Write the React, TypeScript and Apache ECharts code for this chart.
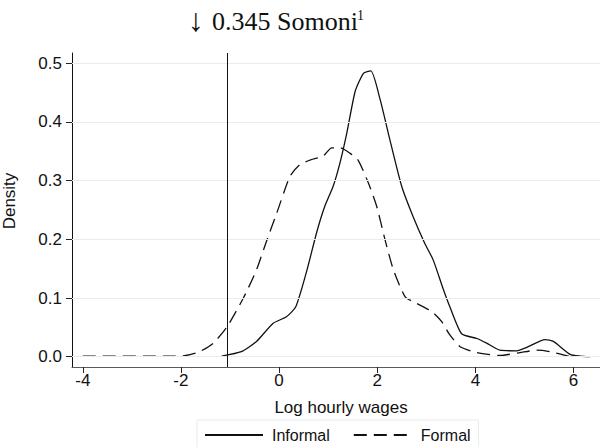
import React, { useEffect, useRef } from "react";
import * as echarts from "echarts";

const informalX = [-1.17, -0.77, -0.46, -0.12, 0.15, 0.34, 0.56, 0.77, 0.93, 1.10, 1.24, 1.38, 1.55, 1.72, 1.87, 2.06, 2.26, 2.50, 2.73, 2.97, 3.14, 3.35, 3.48, 3.72, 4.03, 4.23, 4.50, 4.84, 5.05, 5.42, 5.59, 5.93, 6.13, 6.34];
const informalY = [0.001, 0.0085, 0.026, 0.057, 0.068, 0.085, 0.145, 0.213, 0.256, 0.290, 0.330, 0.381, 0.452, 0.483, 0.487, 0.438, 0.369, 0.290, 0.239, 0.193, 0.165, 0.114, 0.085, 0.039, 0.031, 0.023, 0.011, 0.010, 0.016, 0.029, 0.026, 0.004, 0.001, 0.0];

const formalX = [-4.0, -2.2, -1.9, -1.62, -1.34, -1.06, -0.73, -0.46, -0.26, -0.05, 0.22, 0.42, 0.63, 0.90, 1.07, 1.24, 1.44, 1.61, 1.82, 1.99, 2.16, 2.33, 2.57, 2.80, 3.11, 3.31, 3.48, 3.69, 4.03, 4.50, 4.91, 5.25, 5.52, 5.93];
const formalY = [0.001, 0.001, 0.002, 0.0085, 0.023, 0.051, 0.0995, 0.148, 0.196, 0.244, 0.307, 0.327, 0.335, 0.342, 0.356, 0.356, 0.347, 0.335, 0.296, 0.256, 0.199, 0.148, 0.102, 0.091, 0.077, 0.060, 0.037, 0.017, 0.007, 0.002, 0.007, 0.011, 0.0085, 0.0];

const xTicks = [-4, -2, 0, 2, 4, 6];
const yTicks = [0, 0.1, 0.2, 0.3, 0.4, 0.5];
const cutoff = Math.log(0.345);

const SANS = "'Liberation Sans', Arial, sans-serif";
const SERIF = "'Liberation Serif', 'Times New Roman', serif";

export default function App() {
  const ref = useRef<HTMLDivElement>(null);
  useEffect(() => {
    if (!ref.current) return;
    const chart = echarts.init(ref.current, null, { renderer: "svg" });
    const pairs = (xs: number[], ys: number[]) => xs.map((x, i) => [x, ys[i]]);
    chart.setOption({
      animation: false,
      backgroundColor: "#ffffff",
      grid: { left: 72, top: 53, width: 528, height: 314, containLabel: false, outerBoundsMode: "none" },
      xAxis: {
        type: "value",
        min: -4.22,
        max: 6.54,
        axisLine: { show: true, onZero: false, lineStyle: { color: "#5a5a5a", width: 1 } },
        axisTick: { show: true, length: 6, customValues: xTicks, lineStyle: { color: "#222" } },
        axisLabel: {
          customValues: xTicks,
          margin: 5,
          fontFamily: SANS,
          fontSize: 17,
          color: "#111",
          formatter: (v: number) => String(v),
        },
        splitLine: { show: false },
      },
      yAxis: {
        type: "value",
        min: -0.0176,
        max: 0.5176,
        axisLine: { show: true, onZero: false, lineStyle: { color: "#111", width: 1 } },
        axisTick: { show: true, length: 6, customValues: yTicks, lineStyle: { color: "#222" } },
        axisLabel: {
          customValues: yTicks,
          margin: 10,
          fontFamily: SANS,
          fontSize: 17,
          color: "#111",
          formatter: (v: number) => v.toFixed(1),
        },
        splitLine: { show: false },
      },
      legend: {
        left: 197,
        top: 420,
        padding: [7, 8, 7, 7],
        itemWidth: 58,
        itemHeight: 14,
        itemGap: 23,
        borderColor: "#e4ecec",
        borderWidth: 1,
        itemStyle: { opacity: 0 },
        textStyle: { fontFamily: SANS, fontSize: 16, color: "#111", padding: [0, 0, 0, 4] },
        data: ["Informal", "Formal"],
      },
      series: [
        {
          name: "Formal",
          type: "line",
          data: pairs(formalX, formalY),
          showSymbol: false,
          symbol: "none",
          smooth: 0.2,
          z: 3,
          lineStyle: { color: "#111", width: 1.3, type: [13, 7] },
          itemStyle: { color: "#111" },
          markLine: {
            silent: true,
            symbol: "none",
            label: { show: false },
            lineStyle: { color: "#e6eded", width: 1, type: "solid" },
            data: yTicks.map((t) => ({ yAxis: t })),
          },
        },
        {
          name: "Informal",
          type: "line",
          data: pairs(informalX, informalY),
          showSymbol: false,
          symbol: "none",
          smooth: 0.2,
          z: 4,
          lineStyle: { color: "#111", width: 1.3, type: "solid" },
          itemStyle: { color: "#111" },
          markLine: {
            silent: true,
            symbol: "none",
            label: { show: false },
            lineStyle: { color: "#111", width: 1, type: "solid" },
            data: [{ xAxis: cutoff }],
          },
        },
      ],
      graphic: [
        {
          type: "text",
          x: 9.5,
          y: 201,
          rotation: Math.PI / 2,
          style: { text: "Density", font: `17px ${SANS}`, fill: "#111", textAlign: "center", textVerticalAlign: "middle" },
        },
        {
          type: "text",
          x: 341,
          y: 407,
          style: { text: "Log hourly wages", font: `17px ${SANS}`, fill: "#111", textAlign: "center", textVerticalAlign: "middle" },
        },
        {
          type: "text",
          x: 188,
          y: 20,
          style: { text: "↓", font: `32px ${SERIF}`, fill: "#111", textAlign: "left", textVerticalAlign: "middle" },
        },
        {
          type: "text",
          x: 212,
          y: 21,
          style: { text: "0.345 Somoni", font: `26px ${SERIF}`, fill: "#111", textAlign: "left", textVerticalAlign: "middle" },
        },
        {
          type: "text",
          x: 357,
          y: 15,
          style: { text: "1", font: `14px ${SERIF}`, fill: "#111", textAlign: "left", textVerticalAlign: "middle" },
        },
      ],
    });
    return () => chart.dispose();
  }, []);
  return <div ref={ref} style={{ width: 600, height: 447, position: "absolute", left: 0, top: 0 }} />;
}
